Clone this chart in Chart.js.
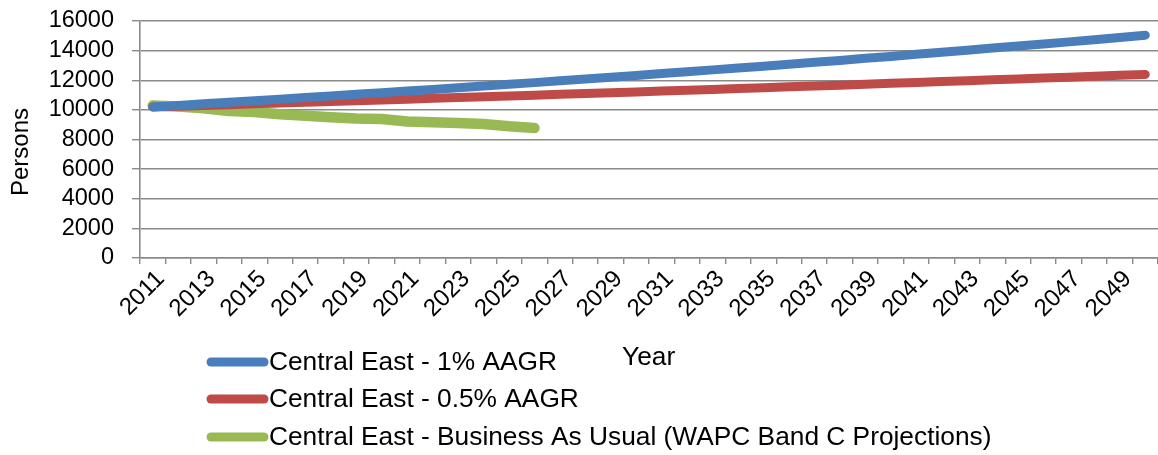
<!DOCTYPE html>
<html>
<head>
<meta charset="utf-8">
<script src="https://cdn.jsdelivr.net/npm/chart.js@4/dist/chart.umd.min.js"></script>
<style>
  html, body { margin: 0; padding: 0; background: #fff; overflow: hidden; }
  #wrap { width: 1158px; height: 455px; position: relative; }
</style>
</head>
<body>
<div id="wrap"><canvas id="c" width="1158" height="455"></canvas></div>
<script>
// Years on the category axis
const years = [
  '2011','2012','2013','2014','2015','2016','2017','2018','2019','2020',
  '2021','2022','2023','2024','2025','2026','2027','2028','2029','2030',
  '2031','2032','2033','2034','2035','2036','2037','2038','2039','2040',
  '2041','2042','2043','2044','2045','2046','2047','2048','2049','2050'
];
// Year labels printed under the axis
const shownYears = [
  '2011','2013','2015','2017','2019','2021','2023','2025','2027','2029',
  '2031','2033','2035','2037','2039','2041','2043','2045','2047','2049'
];
// Value axis ticks
const yTicks = [0, 2000, 4000, 6000, 8000, 10000, 12000, 14000, 16000];

// Population series (persons)
const aagr1 = [
  10200, 10300, 10410, 10510, 10610, 10720, 10830, 10940, 11050, 11160,
  11270, 11380, 11490, 11610, 11730, 11840, 11960, 12080, 12200, 12320,
  12450, 12570, 12700, 12820, 12950, 13080, 13210, 13340, 13480, 13610,
  13750, 13890, 14030, 14170, 14310, 14450, 14590, 14740, 14890, 15040
];
const aagr05 = [
  10200, 10250, 10300, 10350, 10410, 10460, 10510, 10560, 10620, 10670,
  10720, 10780, 10830, 10880, 10940, 10990, 11050, 11100, 11160, 11210,
  11270, 11330, 11380, 11440, 11500, 11560, 11610, 11670, 11730, 11790,
  11850, 11910, 11970, 12030, 12090, 12150, 12210, 12270, 12330, 12390
];
const businessAsUsual = [
  10290, 10220, 10110, 9930, 9850, 9710, 9600, 9510, 9420, 9380,
  9220, 9160, 9110, 9040, 8890, 8780
];

const seriesNames = [
  'Central East - 1% AAGR',
  'Central East - 0.5% AAGR',
  'Central East - Business As Usual (WAPC Band C Projections)'
];
const seriesColors = ['#4A7EBB', '#BE4B48', '#98B954'];
const seriesWidths = [9, 9, 10.5];

const FONT = "'Liberation Sans', Arial, sans-serif";
const GRID = '#8a8a8a';

// Legend rows, axis titles
const annotations = {
  id: 'annotations',
  afterDraw(chart) {
    const ctx = chart.ctx;
    ctx.save();
    // value axis title
    ctx.fillStyle = '#000';
    ctx.font = '24px ' + FONT;
    ctx.textAlign = 'center';
    ctx.textBaseline = 'middle';
    ctx.translate(21, 152);
    ctx.rotate(-Math.PI / 2);
    ctx.fillText('Persons', 0, 0);
    ctx.restore();

    ctx.save();
    ctx.font = '26.3px ' + FONT;
    ctx.textBaseline = 'middle';
    ctx.textAlign = 'left';
    ctx.fillStyle = '#000';
    ctx.fillText('Year', 622, 358);

    const rows = [362, 399, 437];
    chart.data.datasets.forEach((ds, i) => {
      const y = rows[i];
      ctx.strokeStyle = ds.borderColor;
      ctx.lineWidth = 9;
      ctx.lineCap = 'round';
      ctx.beginPath();
      ctx.moveTo(211, y);
      ctx.lineTo(264, y);
      ctx.stroke();
      ctx.fillStyle = '#000';
      ctx.fillText(ds.label, 269, y + 1);
    });
    ctx.restore();
  }
};

new Chart(document.getElementById('c'), {
  type: 'line',
  data: {
    labels: years,
    datasets: [aagr1, aagr05, businessAsUsual].map((d, i) => ({
      label: seriesNames[i],
      data: d,
      borderColor: seriesColors[i],
      backgroundColor: seriesColors[i],
      borderWidth: seriesWidths[i],
      borderCapStyle: 'round',
      borderJoinStyle: 'round',
      pointRadius: 0,
      tension: 0,
      fill: false
    }))
  },
  options: {
    responsive: false,
    animation: false,
    layout: { padding: { top: 21, left: 0, right: 0, bottom: 0 } },
    plugins: {
      legend: { display: false },
      tooltip: { enabled: false }
    },
    scales: {
      x: {
        type: 'category',
        offset: true,
        grid: {
          offset: true,
          drawOnChartArea: false,
          drawTicks: true,
          tickLength: 6,
          color: GRID,
          lineWidth: 1.4
        },
        border: { color: GRID, width: 1.6 },
        ticks: {
          autoSkip: false,
          minRotation: 45,
          maxRotation: 45,
          padding: 1,
          labelOffset: 8,
          color: '#000',
          font: { family: FONT, size: 24 },
          callback(value) {
            const l = this.getLabelForValue(value);
            return shownYears.includes(l) ? l : '';
          }
        },
        afterFit(scale) {
          scale.height = 197;
          scale.paddingLeft = 0;
          scale.paddingRight = 0;
        }
      },
      y: {
        min: 0,
        max: 16000,
        afterBuildTicks(scale) { scale.ticks = yTicks.map(v => ({ value: v })); },
        grid: {
          color: GRID,
          lineWidth: 1.4,
          drawTicks: true,
          tickLength: 8
        },
        border: { color: GRID, width: 1.6 },
        ticks: {
          autoSkip: false,
          padding: 18,
          color: '#000',
          font: { family: FONT, size: 23.5 },
          callback(value) { return String(value); }
        },
        afterFit(scale) {
          scale.width = 140;
          scale.paddingTop = 0;
          scale.paddingBottom = 0;
        }
      }
    }
  },
  plugins: [annotations]
});
</script>
</body>
</html>
